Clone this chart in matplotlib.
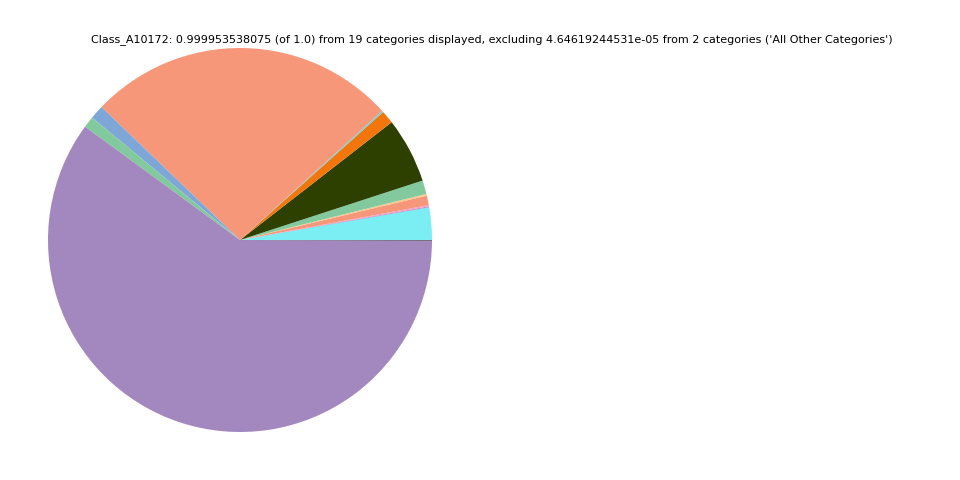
import matplotlib
matplotlib.use("Agg")
import matplotlib.pyplot as plt

categories = [f"cat_{i}" for i in range(1, 20)]
values = [2.72, 0.01, 0.08, 0.10, 0.80, 0.15, 1.15, 5.50, 1.10, 0.12,
          26.10, 1.17, 0.95, 59.95, 0.01, 0.01, 0.01, 0.02, 0.05]
colors = ["#7beef4", "#5a4a6a", "#c08ad0", "#f49ac2", "#f7977a", "#fdc68a",
          "#82ca9d", "#2e4000", "#f2760b", "#5fd8e0", "#f7977a", "#7ea7d8",
          "#82ca9d", "#a288be", "#4a3a5a", "#4a3a5a", "#4a3a5a", "#4a3a5a", "#4a3a5a"]
title = ("Class_A10172: 0.999953538075 (of 1.0) from 19 categories displayed, "
         "excluding 4.64619244531e-05 from 2 categories ('All Other Categories')")

fig = plt.figure(figsize=(9.6, 4.8), dpi=100)
ax = fig.add_axes([0.05, 0.1, 0.4, 0.8])
ax.pie(values, colors=colors, startangle=0, counterclock=True,
       wedgeprops=dict(linewidth=0))
ax.set_xlim(-1, 1)
ax.set_ylim(-1, 1)
ax.set_aspect("equal")
fig.text(0.5125, 1 - 40 / 480, title, ha="center", va="center", fontsize=8)
fig.savefig("out.png", dpi=100)
